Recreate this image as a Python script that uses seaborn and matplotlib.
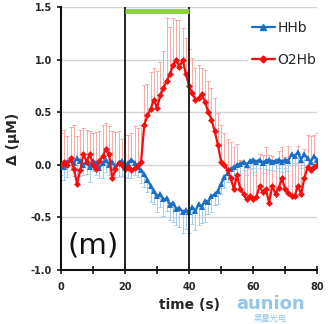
import numpy as np
import pandas as pd
import matplotlib
matplotlib.use("Agg")
import matplotlib.pyplot as plt
import seaborn as sns
from matplotlib.lines import Line2D

# time axis (s)
time = list(range(0, 81))

o2hb = [0.0, 0.03, 0.0, 0.06, -0.04, -0.18, -0.05, 0.1, 0.03, 0.1,
        0.0, -0.04, 0.04, 0.08, 0.15, 0.1, -0.13, -0.04, 0.02, 0.0,
        -0.04, -0.02, -0.05, -0.03, 0.0, 0.03, 0.38, 0.47, 0.53, 0.62,
        0.54, 0.66, 0.73, 0.8, 0.86, 0.95, 1.0, 0.93, 1.0, 0.86,
        0.75, 0.68, 0.62, 0.64, 0.67, 0.6, 0.5, 0.43, 0.32, 0.19,
        0.03, 0.0, -0.05, -0.13, -0.23, -0.1, -0.23, -0.28, -0.33, -0.3,
        -0.33, -0.31, -0.2, -0.26, -0.23, -0.36, -0.2, -0.28, -0.22, -0.13,
        -0.23, -0.27, -0.3, -0.3, -0.2, -0.28, -0.13, -0.02, -0.05, -0.02,
        0.0]
o2hb_err = [0.3, 0.3, 0.27, 0.3, 0.42, 0.45, 0.38, 0.25, 0.3, 0.22,
            0.3, 0.35, 0.28, 0.3, 0.25, 0.27, 0.45, 0.35, 0.3, 0.25,
            0.32, 0.3, 0.35, 0.4, 0.35, 0.35, 0.38, 0.3, 0.35, 0.3,
            0.35, 0.32, 0.35, 0.6, 0.45, 0.45, 0.38, 0.45, 0.3, 0.35,
            0.35, 0.34, 0.3, 0.31, 0.25, 0.3, 0.3, 0.3, 0.32, 0.3,
            0.35, 0.3, 0.3, 0.35, 0.4, 0.3, 0.28, 0.3, 0.3, 0.3,
            0.35, 0.32, 0.3, 0.35, 0.4, 0.45, 0.28, 0.3, 0.35, 0.3,
            0.3, 0.45, 0.3, 0.32, 0.38, 0.3, 0.28, 0.3, 0.32, 0.3,
            0.3]

hhb = [0.0, -0.02, 0.03, 0.05, 0.02, 0.06, 0.04, 0.0, 0.03, -0.02,
       0.04, 0.02, -0.03, 0.02, 0.05, 0.0, 0.03, -0.02, 0.02, 0.04,
       0.0, 0.02, 0.05, 0.02, -0.02, -0.05, -0.09, -0.14, -0.2, -0.25,
       -0.3, -0.28, -0.33, -0.32, -0.38, -0.36, -0.42, -0.41, -0.45, -0.43,
       -0.45, -0.4, -0.44, -0.37, -0.4, -0.34, -0.35, -0.3, -0.28, -0.25,
       -0.18, -0.12, -0.08, -0.04, -0.02, 0.0, 0.01, 0.03, 0.0, 0.04,
       0.05, 0.03, 0.05, 0.02, 0.04, 0.05, 0.03, 0.04, 0.05, 0.03,
       0.05, 0.04, 0.1, 0.08, 0.12, 0.05, 0.1, 0.06, 0.03, 0.08,
       0.05]
hhb_err = [0.1, 0.12, 0.15, 0.1, 0.13, 0.12, 0.15, 0.1, 0.12, 0.14,
           0.1, 0.12, 0.1, 0.15, 0.12, 0.1, 0.12, 0.1, 0.14, 0.15,
           0.12, 0.15, 0.18, 0.12, 0.1, 0.12, 0.12, 0.12, 0.15, 0.12,
           0.15, 0.12, 0.16, 0.12, 0.15, 0.18, 0.15, 0.18, 0.2, 0.18,
           0.2, 0.16, 0.18, 0.2, 0.15, 0.2, 0.12, 0.15, 0.1, 0.12,
           0.1, 0.1, 0.08, 0.1, 0.1, 0.08, 0.1, 0.08, 0.1, 0.08,
           0.08, 0.1, 0.08, 0.1, 0.08, 0.1, 0.08, 0.1, 0.08, 0.1,
           0.08, 0.1, 0.1, 0.08, 0.1, 0.08, 0.1, 0.08, 0.1, 0.08,
           0.08]

stim_start, stim_end = 20, 40

ds = pd.DataFrame({"time": time, "HHb": hhb, "O2Hb": o2hb})

sns.set_style("white")
plt.rcParams['font.family'] = ['DejaVu Sans', 'Noto Sans CJK SC']

blue = "#1a6fc4"
red = "#f40f0f"

fig = plt.figure(figsize=(3.3, 3.24), dpi=100)
ax = fig.add_axes([0.185, 0.167, 0.776, 0.811])

# one-sided error bars
z = np.zeros(len(time))
ax.errorbar(time, o2hb, yerr=[z, o2hb_err], fmt="none", ecolor="#f7a9a9",
            elinewidth=0.7, capsize=1.5, capthick=0.7, zorder=2)
ax.errorbar(time, hhb, yerr=[hhb_err, z], fmt="none", ecolor="#a3cdef",
            elinewidth=0.7, capsize=1.5, capthick=0.7, zorder=2)

sns.lineplot(data=ds, x="time", y="O2Hb", ax=ax, color=red, marker="D",
             markersize=3.5, markeredgewidth=0, linewidth=1.6, zorder=4)
sns.lineplot(data=ds, x="time", y="HHb", ax=ax, color=blue, marker="^",
             markersize=4, markeredgewidth=0, linewidth=1.6, zorder=3)

ax.axvline(stim_start, color="#222222", lw=1.4, zorder=5)
ax.axvline(stim_end, color="#222222", lw=1.4, zorder=5)
ax.plot([stim_start, stim_end], [1.46, 1.46], color="#8cd040", lw=3.5,
        solid_capstyle="butt", zorder=6, clip_on=False)

ax.set_xlim(0, 80)
ax.set_ylim(-1.0, 1.5)
ax.set_xticks([0, 20, 40, 60, 80])
ax.set_xticks([10, 30, 50, 70], minor=True)
ax.set_yticks([-1.0, -0.5, 0.0, 0.5, 1.0, 1.5])
ax.set_yticklabels(["-1.0", "-0.5", "0.0", "0.5", "1.0", "1.5"])
ax.yaxis.grid(True, color="#d4d4d4", lw=1)
ax.set_axisbelow(True)

for s in ["top", "right"]:
    ax.spines[s].set_visible(False)
for s in ["left", "bottom"]:
    ax.spines[s].set_color("#111111")
    ax.spines[s].set_linewidth(1.5)

ax.tick_params(axis="x", which="both", direction="inout", length=6, width=1.3,
               bottom=True, labelsize=7, pad=6)
ax.tick_params(axis="y", direction="out", length=3, width=1.3, left=True,
               labelsize=7)
for lab in ax.get_xticklabels() + ax.get_yticklabels():
    lab.set_fontweight("bold")

ax.set_xlabel("time (s)", fontsize=10, fontweight="bold", labelpad=4)
ax.set_ylabel("Δ (μM)", fontsize=10, fontweight="bold", labelpad=8)

ax.text(2, -0.84, "(m)", fontsize=21, color="#111111")

handles = [Line2D([], [], color=blue, marker="^", markersize=4, lw=1.6),
           Line2D([], [], color=red, marker="D", markersize=3.5, lw=1.6)]
leg = ax.legend(handles, ["HHb", "O2Hb"], loc="upper right",
                bbox_to_anchor=(1.04, 0.99), frameon=True, fontsize=10,
                handlelength=1.6, handletextpad=0.2, labelspacing=1.3,
                borderpad=0.3)
leg.get_frame().set_edgecolor("white")
leg.get_frame().set_facecolor("white")
leg.get_frame().set_alpha(1)

# watermark
fig.text(0.82, 0.045, "aunion", fontsize=13, color="#7ab8e6", alpha=0.8,
         ha="center", fontweight="bold")
fig.text(0.82, 0.008, "昊量光电", fontsize=6, color="#7ab8e6", alpha=0.8,
         ha="center", family=['Noto Sans CJK SC', 'DejaVu Sans'])

plt.savefig("out.png", dpi=100)
